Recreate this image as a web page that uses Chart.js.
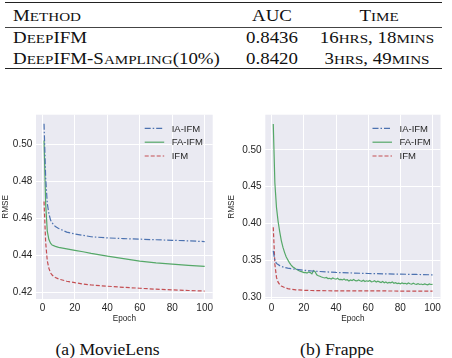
<!DOCTYPE html>
<html>
<head>
<meta charset="utf-8">
<script src="https://cdn.jsdelivr.net/npm/chart.js@4"></script>
<style>
  body { margin: 0; background: #fff; }
  #page { position: relative; width: 452px; height: 358px; overflow: hidden; }
  .rule { position: absolute; left: 5px; width: 437px; background: #222; }
  .tt { position: absolute; font-family: 'Liberation Serif', 'Times New Roman', serif;
        font-size: 16px; line-height: 16px; color: #111; white-space: nowrap;
        transform: scaleX(1.18); transform-origin: left top; }
  .tt .sc { font-size: 0.8em; }
  .c { text-align: center; width: 140px; transform-origin: center top; }
  .cap { position: absolute; font-family: 'Liberation Serif', 'Times New Roman', serif;
         font-size: 17.6px; line-height: 17.6px; color: #111; width: 200px; text-align: center; }
  canvas { position: absolute; }
</style>
</head>
<body>
<div id="page">
  <div class="rule" style="top:2px;height:1.3px"></div>
  <div class="rule" style="top:27px;height:0.7px;background:#444"></div>
  <div class="rule" style="top:67.5px;height:1.3px"></div>

  <div class="tt" style="left:12.7px;top:8.3px">M<span class="sc">ETHOD</span></div>
  <div class="tt c" style="left:202px;top:8.3px">AUC</div>
  <div class="tt c" style="left:309px;top:8.3px">T<span class="sc">IME</span></div>

  <div class="tt" style="left:12.7px;top:29.9px">D<span class="sc">EEP</span>IFM</div>
  <div class="tt c" style="left:202px;top:29.9px">0.8436</div>
  <div class="tt c" style="left:307px;top:29.9px">16<span class="sc">HRS</span>, 18<span class="sc">MINS</span></div>

  <div class="tt" style="left:12.7px;top:50.6px">D<span class="sc">EEP</span>IFM-S<span class="sc">AMPLING</span>(10%)</div>
  <div class="tt c" style="left:202px;top:50.6px">0.8420</div>
  <div class="tt c" style="left:307px;top:50.6px">3<span class="sc">HRS</span>, 49<span class="sc">MINS</span></div>

  <canvas id="movielens" width="226" height="220" style="left:0;top:105px"></canvas>
  <canvas id="frappe" width="226" height="220" style="left:226px;top:105px"></canvas>

  <div class="cap" style="left:7.5px;top:341px">(a) MovieLens</div>
  <div class="cap" style="left:237px;top:341px">(b) Frappe</div>
</div>

<script>
// (a) MovieLens
const movieEpochs = [1, 2, 3, 4, 5, 6, 8, 10, 15, 20, 25, 30, 40, 50, 60, 70, 80, 90, 100]
const movieIA  = [0.511, 0.482, 0.468, 0.4625, 0.459, 0.4575, 0.4555, 0.4545, 0.4525, 0.4515, 0.4508, 0.4500, 0.4494, 0.4490, 0.4487, 0.4484, 0.4481, 0.4478, 0.4474]
const movieFA  = [0.502, 0.468, 0.453, 0.4485, 0.4465, 0.4455, 0.4448, 0.4443, 0.4435, 0.4427, 0.4419, 0.4410, 0.4395, 0.4382, 0.4368, 0.4359, 0.4352, 0.4346, 0.4340]
const movieIFM = [0.469, 0.447, 0.437, 0.433, 0.4305, 0.4293, 0.4280, 0.4272, 0.4260, 0.4252, 0.4245, 0.4240, 0.4233, 0.4227, 0.4222, 0.4217, 0.4213, 0.4210, 0.4207]
const movieYTicks = [0.42, 0.44, 0.46, 0.48, 0.50]

// (b) Frappe
const frappeEpochs = [1, 2, 3, 4, 5, 6, 8, 10, 12, 15, 20, 25, 30, 40, 50, 60, 70, 80, 90, 100]
const frappeIA  = [0.363, 0.350, 0.346, 0.3445, 0.343, 0.342, 0.3405, 0.3395, 0.3388, 0.3380, 0.3367, 0.3357, 0.3350, 0.3337, 0.3330, 0.3323, 0.3318, 0.3314, 0.3310, 0.3305]
const frappeIFM = [0.395, 0.345, 0.327, 0.3205, 0.3172, 0.3152, 0.3133, 0.3118, 0.3110, 0.3102, 0.3095, 0.3092, 0.3090, 0.3088, 0.3087, 0.3086, 0.3086, 0.3085, 0.3085, 0.3085]
// FA-IFM, one value per epoch 1..100
const frappeFA = [
  0.535, 0.455, 0.422, 0.403, 0.389, 0.377, 0.368, 0.361, 0.355, 0.351,
  0.347, 0.344, 0.3415, 0.340, 0.3385, 0.3375, 0.336, 0.3352, 0.3345, 0.3335,
  0.3338, 0.3328, 0.3345, 0.3335, 0.3318, 0.3362, 0.3348, 0.3305, 0.3292, 0.3285,
  0.3276, 0.3268, 0.3262, 0.3270, 0.3255, 0.3258, 0.3248, 0.3262, 0.3252, 0.3246,
  0.3258, 0.3240, 0.3244, 0.3236, 0.3249, 0.3233, 0.3238, 0.3220, 0.3236, 0.3228,
  0.3241, 0.3226, 0.3222, 0.3235, 0.3224, 0.3218, 0.3232, 0.3215, 0.3224, 0.3216,
  0.3228, 0.3210, 0.3214, 0.3224, 0.3206, 0.3218, 0.3209, 0.3200, 0.3214, 0.3198,
  0.3208, 0.3192, 0.3203, 0.3196, 0.3209, 0.3190, 0.3198, 0.3187, 0.3192, 0.3184,
  0.3196, 0.3186, 0.3190, 0.3181, 0.3195, 0.3184, 0.3178, 0.3192, 0.3180, 0.3176,
  0.3186, 0.3174, 0.3180, 0.3171, 0.3182, 0.3175, 0.3170, 0.3181, 0.3174, 0.3176
]
const frappeYTicks = [0.30, 0.35, 0.40, 0.45, 0.50]

const xTicks = [0, 20, 40, 60, 80, 100]
const seriesNames = ['IA-IFM', 'FA-IFM', 'IFM']

const BLUE = '#4C72B0', GREEN = '#55A868', RED = '#C44E52'
const TXT = '#262626'
const SANS = "'Liberation Sans', Arial, sans-serif"

const pts = (xs, ys) => ys.map((v, i) => ({ x: xs[i], y: v }))

// seaborn-like background + legend inside the plot
const seabornPlugin = {
  id: 'seaborn',
  beforeDraw(chart) {
    const a = chart.chartArea, ctx = chart.ctx
    ctx.save()
    ctx.fillStyle = '#EAEAF2'
    ctx.fillRect(a.left, a.top, a.right - a.left, a.bottom - a.top)
    ctx.restore()
  },
  afterDatasetsDraw(chart) {
    const a = chart.chartArea, ctx = chart.ctx
    ctx.save()
    ctx.font = '9.5px ' + SANS
    ctx.textBaseline = 'middle'
    chart.data.datasets.forEach((ds, i) => {
      const y = a.top + 13.7 + i * 13.8
      const x0 = a.right - 68
      ctx.strokeStyle = ds.borderColor
      ctx.lineWidth = ds.borderWidth
      ctx.setLineDash(ds.borderDash || [])
      ctx.beginPath()
      ctx.moveTo(x0, y)
      ctx.lineTo(x0 + 19.5, y)
      ctx.stroke()
      ctx.setLineDash([])
      ctx.fillStyle = TXT
      ctx.fillText(ds.label, a.right - 41, y + 0.5)
    })
    ctx.restore()
  }
}

function makeChart(id, datasets, yMin, yMax, yTicks, yDigits, pad, yWidth) {
  return new Chart(document.getElementById(id), {
    type: 'line',
    data: { datasets },
    plugins: [seabornPlugin],
    options: {
      responsive: false,
      animation: false,
      devicePixelRatio: 1,
      layout: { padding: pad },
      elements: { point: { radius: 0 }, line: { tension: 0 } },
      plugins: { legend: { display: false }, tooltip: { enabled: false } },
      scales: {
        x: {
          type: 'linear', min: -3.95, max: 104.95,
          afterBuildTicks: s => { s.ticks = xTicks.map(v => ({ value: v })) },
          afterFit: s => { s.height = 26 },
          grid: { color: '#ffffff', lineWidth: 1, drawTicks: false },
          border: { display: false },
          ticks: { color: TXT, font: { family: SANS, size: 10 }, padding: 3.5, maxRotation: 0 },
          title: { display: true, text: 'Epoch', color: TXT, font: { family: SANS, size: 8.2 }, padding: { top: 0, bottom: 1.6 } }
        },
        y: {
          type: 'linear', min: yMin, max: yMax,
          afterBuildTicks: s => { s.ticks = yTicks.map(v => ({ value: v })) },
          afterFit: s => { s.width = yWidth },
          grid: { color: '#ffffff', lineWidth: 1, drawTicks: false },
          border: { display: false },
          ticks: { color: TXT, font: { family: SANS, size: 10 }, padding: 3.7, callback: v => v.toFixed(yDigits) },
          title: { display: true, text: 'RMSE', color: TXT, font: { family: SANS, size: 8.2 }, padding: { top: 1.2, bottom: 0 } }
        }
      }
    }
  })
}

Chart.defaults.font.family = SANS

makeChart('movielens', [
  { label: seriesNames[0], data: pts(movieEpochs, movieIA), borderColor: BLUE, borderWidth: 1.2, borderDash: [6, 2, 1.5, 2] },
  { label: seriesNames[1], data: pts(movieEpochs, movieFA), borderColor: GREEN, borderWidth: 1.2 },
  { label: seriesNames[2], data: pts(movieEpochs, movieIFM), borderColor: RED, borderWidth: 1.2, borderDash: [4, 2] }
], 0.4164, 0.5159, movieYTicks, 2, { top: 7, right: 13.3, left: 0, bottom: 0 }, 36)

makeChart('frappe', [
  { label: seriesNames[0], data: pts(frappeEpochs, frappeIA), borderColor: BLUE, borderWidth: 1.2, borderDash: [6, 2, 1.5, 2] },
  { label: seriesNames[1], data: frappeFA.map((v, i) => ({ x: i + 1, y: v })), borderColor: GREEN, borderWidth: 1.2 },
  { label: seriesNames[2], data: pts(frappeEpochs, frappeIFM), borderColor: RED, borderWidth: 1.2, borderDash: [4, 2] }
], 0.2977, 0.5477, frappeYTicks, 2, { top: 7.3, right: 11.5, left: 0, bottom: 0 }, 39.3)
</script>
</body>
</html>
